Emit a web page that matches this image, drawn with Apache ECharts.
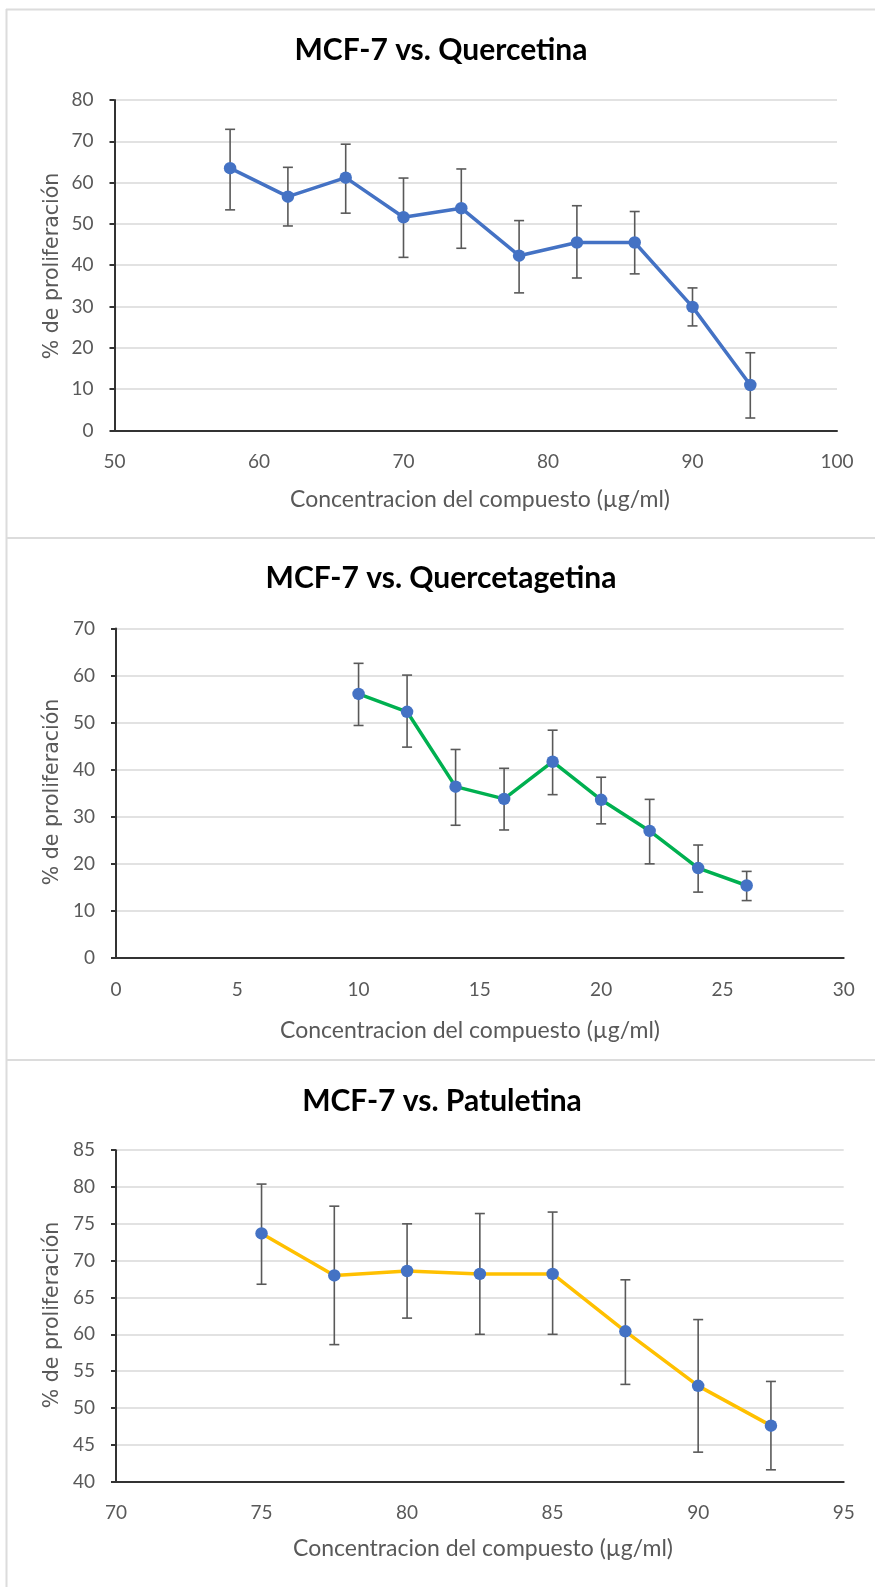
<!DOCTYPE html>
<html>
<head>
<meta charset="utf-8">
<script src="https://cdn.jsdelivr.net/npm/echarts@6/dist/echarts.min.js"></script>
<style>
html,body{margin:0;padding:0;background:#fff;}
#c{width:875px;height:1587px;}
</style>
</head>
<body>
<div id="c"></div>
<script>
// ---- Data ----
const titles = ['MCF-7 vs. Quercetina', 'MCF-7 vs. Quercetagetina', 'MCF-7 vs. Patuletina'];
const xTitle = 'Concentracion del compuesto (µg/ml)';
const yTitle = '% de proliferación';

// Panel 1: Quercetina
const q_x   = [58, 62, 66, 70, 74, 78, 82, 86, 90, 94];
const q_y   = [63.5, 56.6, 61.2, 51.6, 53.8, 42.3, 45.5, 45.5, 29.9, 11.0];
const q_lo  = [53.4, 49.5, 52.6, 41.9, 44.1, 33.3, 36.9, 37.9, 25.3, 3.0];
const q_hi  = [72.9, 63.7, 69.3, 61.1, 63.3, 50.8, 54.4, 53.0, 34.5, 18.8];

// Panel 2: Quercetagetina
const qg_x  = [10, 12, 14, 16, 18, 20, 22, 24, 26];
const qg_y  = [56.1, 52.3, 36.4, 33.8, 41.7, 33.6, 27.0, 19.1, 15.4];
const qg_lo = [49.4, 44.8, 28.2, 27.2, 34.7, 28.5, 20.0, 14.0, 12.2];
const qg_hi = [62.6, 60.1, 44.3, 40.3, 48.4, 38.4, 33.7, 24.0, 18.4];

// Panel 3: Patuletina
const p_x   = [75, 77.5, 80, 82.5, 85, 87.5, 90, 92.5];
const p_y   = [73.7, 68.0, 68.6, 68.2, 68.2, 60.4, 53.0, 47.6];
const p_lo  = [66.8, 58.6, 62.2, 60.0, 60.0, 53.2, 44.0, 41.6];
const p_hi  = [80.4, 77.4, 75.0, 76.4, 76.6, 67.4, 62.0, 53.6];

// Axis settings
const xMin = [50, 0, 70], xMax = [100, 30, 95], xInt = [10, 5, 5];
const yMin = [0, 0, 40], yMax = [80, 70, 85], yInt = [10, 10, 5];
const lineColors = ['#4472C4', '#00B050', '#FFC000'];

// ---- Layout ----
const grids = [
  {left: 114.5, top: 100, width: 722.5, height: 330.4},
  {left: 116, top: 628.5, width: 727.7, height: 329.5},
  {left: 116, top: 1150.2, width: 727.7, height: 331.4}
];
const titleY = [50, 578.5, 1101];
const titleX = [441, 441, 442];
const xTitleY = [500, 1031, 1549];
const xTitleX = [480, 470, 483];
const yTitleY = [266, 792, 1315];

const FONT = 'Lato, "Open Sans", sans-serif';
const panels = [
  {x: q_x, y: q_y, lo: q_lo, hi: q_hi},
  {x: qg_x, y: qg_y, lo: qg_lo, hi: qg_hi},
  {x: p_x, y: p_y, lo: p_lo, hi: p_hi}
];

const xAxes = [], yAxes = [], series = [], graphics = [];
panels.forEach((p, i) => {
  xAxes.push({
    type: 'value', gridIndex: i, min: xMin[i], max: xMax[i], interval: xInt[i],
    axisLine: {show: true, onZero: false, lineStyle: {color: '#333', width: 2}},
    axisTick: {show: false},
    splitLine: {show: false},
    axisLabel: {color: '#595959', fontFamily: FONT, fontSize: 19, margin: 22}
  });
  yAxes.push({
    type: 'value', gridIndex: i, min: yMin[i], max: yMax[i], interval: yInt[i],
    axisLine: {show: true, lineStyle: {color: '#333', width: 2}},
    axisTick: {show: true, length: 5, lineStyle: {color: '#333', width: 2}},
    splitLine: {show: true, lineStyle: {color: '#d9d9d9', width: 1.5}},
    axisLabel: {color: '#595959', fontFamily: FONT, fontSize: 19, margin: 21}
  });
  const errData = p.x.map((xv, k) => [xv, p.y[k], p.lo[k], p.hi[k]]);
  series.push({
    type: 'custom', xAxisIndex: i, yAxisIndex: i, z: 1,
    data: errData,
    encode: {x: 0, y: [2, 3]},
    silent: true,
    renderItem: function (params, api) {
      const xv = api.value(0);
      const top = api.coord([xv, api.value(3)]);
      const bot = api.coord([xv, api.value(2)]);
      const w = 5;
      const st = {stroke: '#595959', lineWidth: 1.6};
      return {
        type: 'group',
        children: [
          {type: 'line', shape: {x1: top[0], y1: top[1], x2: bot[0], y2: bot[1]}, style: st},
          {type: 'line', shape: {x1: top[0] - w, y1: top[1], x2: top[0] + w, y2: top[1]}, style: st},
          {type: 'line', shape: {x1: bot[0] - w, y1: bot[1], x2: bot[0] + w, y2: bot[1]}, style: st}
        ]
      };
    }
  });
  series.push({
    type: 'line', xAxisIndex: i, yAxisIndex: i, z: 3,
    data: p.x.map((xv, k) => [xv, p.y[k]]),
    symbol: 'circle', symbolSize: 12.5,
    lineStyle: {color: lineColors[i], width: 3.5},
    itemStyle: {color: '#4472C4'},
    animation: false
  });
  // texts
  graphics.push({
    type: 'text', x: titleX[i], y: titleY[i],
    style: {text: titles[i], fill: '#000', font: 'bold 30px ' + FONT, textAlign: 'center', textVerticalAlign: 'middle'}
  });
  graphics.push({
    type: 'text', x: xTitleX[i], y: xTitleY[i],
    style: {text: xTitle, fill: '#595959', font: '23px ' + FONT, textAlign: 'center', textVerticalAlign: 'middle'}
  });
  graphics.push({
    type: 'text', x: 53, y: yTitleY[i], rotation: Math.PI / 2,
    style: {text: yTitle, fill: '#595959', font: '20.5px "DejaVu Sans", sans-serif', textAlign: 'center', textVerticalAlign: 'middle'}
  });
});

// panel borders
const bst = {stroke: '#dcdcdc', lineWidth: 2};
graphics.push({type: 'line', shape: {x1: 6, y1: 9.5, x2: 875, y2: 9.5}, style: bst});
graphics.push({type: 'line', shape: {x1: 6.5, y1: 9, x2: 6.5, y2: 1587}, style: bst});
graphics.push({type: 'line', shape: {x1: 6, y1: 538, x2: 875, y2: 538}, style: bst});
graphics.push({type: 'line', shape: {x1: 6, y1: 1060, x2: 875, y2: 1060}, style: bst});

const chart = echarts.init(document.getElementById('c'), null, {renderer: 'canvas'});
chart.setOption({
  animation: false,
  backgroundColor: '#fff',
  grid: grids,
  xAxis: xAxes,
  yAxis: yAxes,
  series: series,
  graphic: graphics
});
</script>
</body>
</html>
